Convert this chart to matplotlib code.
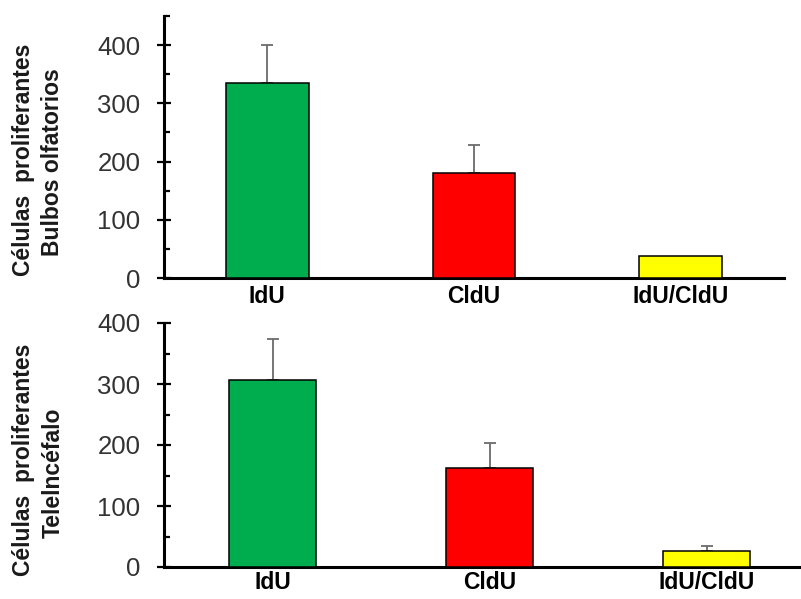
import matplotlib
matplotlib.use("Agg")
import matplotlib.pyplot as plt
import numpy as np
from matplotlib.ticker import MultipleLocator

plt.rcParams['font.family'] = ['Liberation Sans', 'DejaVu Sans']

categories = ["IdU", "CldU", "IdU/CldU"]
colors = ["#00AD4E", "#FF0000", "#FFFF00"]

bulbos_mean = [335, 180, 38]
bulbos_err = [66, 49, 0]
tel_mean = [307, 162, 26]
tel_err = [67, 41, 8]

W, H = 801, 599
fig = plt.figure(figsize=(W / 100, H / 100), dpi=100)

def px_axes(left, right, bottom, top):
    return fig.add_axes([left / W, (H - bottom) / H, (right - left) / W, (bottom - top) / H])

ax1 = px_axes(164, 784, 278, 16)
ax2 = px_axes(164, 815, 567, 323)

def draw(ax, means, errs, ymax, xpad):
    x = np.arange(len(categories))
    ax.bar(x, means, width=0.40, color=colors, edgecolor="black", linewidth=1.1, zorder=3)
    xe = [xi for xi, e in zip(x, errs) if e > 0]
    me = [m for m, e in zip(means, errs) if e > 0]
    ee = [e for e in errs if e > 0]
    ax.errorbar(xe, me, yerr=[[0] * len(ee), ee], fmt="none", ecolor="#6b6b6b",
                elinewidth=1.3, capsize=4, capthick=1.3, zorder=2)
    ax.set_xlim(-0.5, 2.5)
    ax.set_ylim(0, ymax)
    ax.yaxis.set_major_locator(MultipleLocator(100))
    ax.yaxis.set_minor_locator(MultipleLocator(50))
    ax.set_yticks(np.arange(0, 401, 100))
    for s in ["top", "right"]:
        ax.spines[s].set_visible(False)
    for s in ["left", "bottom"]:
        ax.spines[s].set_linewidth(2.2)
    ax.tick_params(axis="y", which="major", direction="inout", length=10, width=1.6,
                   labelsize=18.5, labelcolor="#333333", pad=12)
    ax.tick_params(axis="y", which="minor", direction="in", length=4.5, width=1.6)
    ax.set_xticks(np.arange(len(categories)))
    ax.set_xticklabels(categories, fontsize=16.5, fontweight="bold")
    ax.tick_params(axis="x", length=0, pad=xpad)

draw(ax1, bulbos_mean, bulbos_err, 450, 5)
draw(ax2, tel_mean, tel_err, 400, 3)

lab_kw = dict(rotation=90, ha="center", va="center", fontsize=16.5, fontweight="bold", color="#1a1a1a")
fig.text(24 / W, 1 - 160 / H, "Células  proliferantes", **lab_kw)
fig.text(53 / W, 1 - 162 / H, "Bulbos olfatorios", **lab_kw)
fig.text(24 / W, 1 - 460 / H, "Células  proliferantes", **lab_kw)
fig.text(53 / W, 1 - 473 / H, "Telelncéfalo", **lab_kw)

fig.savefig("out.png", dpi=100)
